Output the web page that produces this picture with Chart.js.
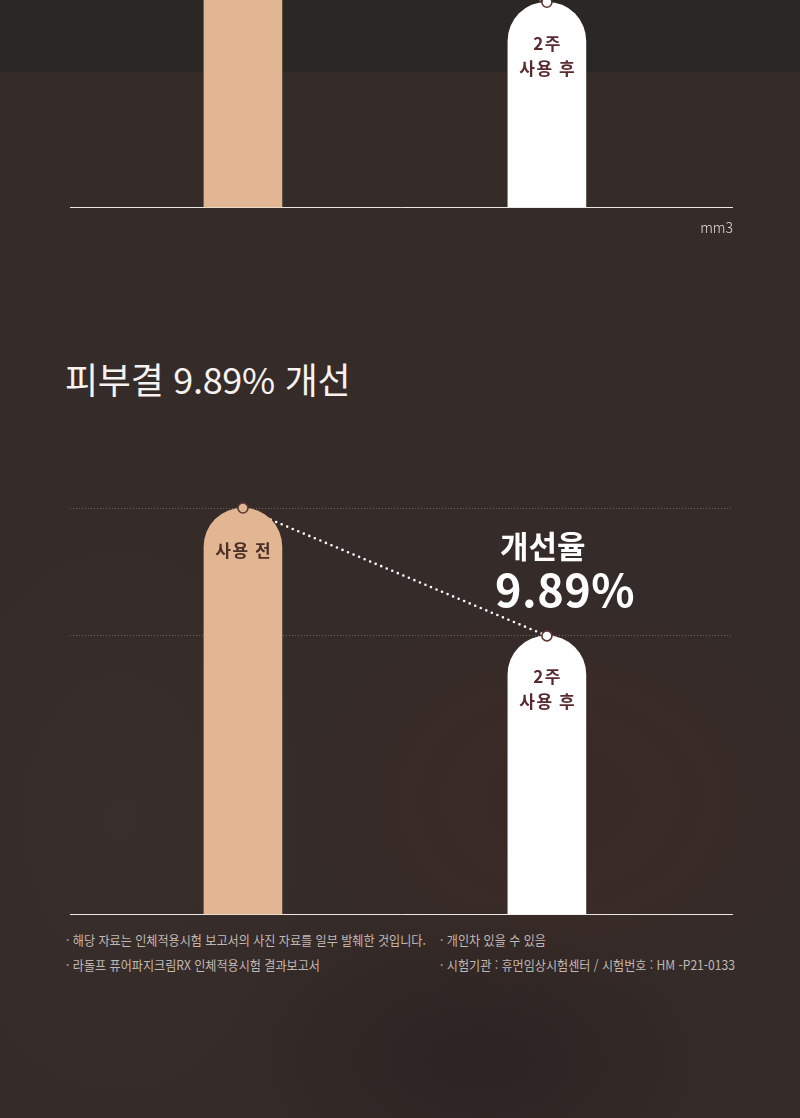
<!DOCTYPE html>
<html lang="ko">
<head>
<meta charset="utf-8">
<script src="https://cdn.jsdelivr.net/npm/chart.js@4/dist/chart.umd.min.js"></script>
<style>
  html, body { margin: 0; padding: 0; }
  body {
    width: 800px; height: 1118px; position: relative; overflow: hidden;
    background: #352b29;
    background-image:
      radial-gradient(ellipse 260px 200px at 560px 800px, rgba(70,40,30,0.35), rgba(0,0,0,0)),
      radial-gradient(ellipse 200px 300px at 120px 820px, rgba(60,52,50,0.35), rgba(0,0,0,0)),
      radial-gradient(ellipse 260px 160px at 480px 1060px, rgba(30,24,23,0.4), rgba(0,0,0,0));
    font-family: "Noto Sans CJK KR", "Noto Sans", sans-serif;
  }
  .band { position: absolute; left: 0; top: 0; width: 800px; height: 72px; background: #2b2725; }
  canvas { position: absolute; left: 0; }
  #c1 { top: -150px; }
  #c2 { top: 470px; }
  .unit { position: absolute; right: 67px; top: 217px; color: #e4dcd8; font-size: 14px; font-weight: 300; }
  .title { position: absolute; left: 65px; top: 352px; color: #f6f2f0; font-size: 36px; font-weight: 400; letter-spacing: -0.3px; white-space: nowrap; }
  .rate1 { position: absolute; left: 500px; top: 522px; color: #ffffff; font-size: 31px; font-weight: 700; white-space: nowrap; }
  .rate2 { position: absolute; left: 495px; top: 555px; color: #ffffff; font-size: 45px; font-weight: 700; white-space: nowrap; letter-spacing: 0.5px; }
  .note { position: absolute; color: #c2b8b3; font-size: 13px; white-space: nowrap; transform: scaleX(0.93); transform-origin: left top; }
</style>
</head>
<body>
<div class="band"></div>
<canvas id="c1" width="800" height="370"></canvas>
<div class="unit">mm3</div>
<div class="title">피부결 9.89% 개선</div>
<canvas id="c2" width="800" height="460"></canvas>
<div class="rate1">개선율</div>
<div class="rate2">9.89%</div>
<div class="note" style="left:66px; top:930px;">· 해당 자료는 인체적용시험 보고서의 사진 자료를 일부 발췌한 것입니다.</div>
<div class="note" style="left:440px; top:930px;">· 개인차 있을 수 있음</div>
<div class="note" style="left:66px; top:955px;">· 라돌프 퓨어파지크림RX 인체적용시험 결과보고서</div>
<div class="note" style="left:440px; top:955px;">· 시험기관 : 휴먼임상시험센터 / 시험번호 : HM -P21-0133</div>
<script>
// ---- data ----
const categories = [["사용 전"], ["2주", "사용 후"]];
const categoryX = [0, 1];
// upper (cropped) chart, unit mm3
const volumeValues = [0.52, 0.316];
// lower chart: skin texture (relative), 9.89% improvement
const textureValues = [100, 90.11];
const textureGridTicks = [90.11, 100];

const barColors = ["#e2b692", "#ffffff"];
const markerFill = ["#e2b692", "#ffffff"];
const labelColors = ["#4b3027", "#5a2b2f"];

const barLabelPlugin = {
  id: "barLabels",
  afterDatasetsDraw(chart) {
    const meta = chart.getDatasetMeta(1);
    const ctx = chart.ctx;
    ctx.save();
    ctx.textAlign = "center";
    ctx.textBaseline = "middle";
    ctx.font = "700 17px 'Noto Sans CJK KR', sans-serif";
    meta.data.forEach((el, i) => {
      const lines = categories[i];
      ctx.fillStyle = labelColors[i];
      if (lines.length === 1) {
        drawSpaced(ctx, lines[0], el.x, el.y + 43, 1.5);
      } else {
        lines.forEach((t, j) => drawSpaced(ctx, t, el.x, el.y + 41 + j * 25, 1.5));
      }
    });
    ctx.restore();
  }
};
function drawSpaced(ctx, text, cx, cy, sp) {
  if (ctx.letterSpacing !== undefined) {
    ctx.letterSpacing = sp + "px";
    ctx.fillText(text, cx + sp / 2, cy);
    ctx.letterSpacing = "0px";
  } else {
    ctx.fillText(text, cx, cy);
  }
}

function makeChart(id, values, yMin, yMax, pad, gridTicks) {
  const pts = values.map((v, i) => ({ x: categoryX[i], y: v }));
  return new Chart(document.getElementById(id), {
    data: {
      datasets: [
        {
          type: "line", data: pts, order: 3, clip: false,
          borderColor: "#ffffff", borderWidth: 2.6, borderDash: [0, 6], borderCapStyle: "round",
          pointRadius: 0, fill: false
        },
        {
          type: "bar", data: pts, order: 2, clip: false, base: yMin,
          backgroundColor: barColors, barThickness: 78,
          borderRadius: { topLeft: 39, topRight: 39, bottomLeft: 0, bottomRight: 0 },
          borderSkipped: "bottom"
        },
        {
          type: "line", data: pts, order: 1, clip: false, showLine: false,
          pointRadius: 5, pointBackgroundColor: markerFill, pointBorderColor: "#5c3830", pointBorderWidth: 1.6
        }
      ]
    },
    options: {
      responsive: false, animation: false, devicePixelRatio: 1,
      layout: { padding: pad },
      plugins: { legend: { display: false }, tooltip: { enabled: false } },
      scales: {
        x: {
          type: "linear", min: -0.569, max: 1.609, offset: false,
          grid: { display: false },
          border: { display: true, color: "#ece6e2", width: 1 },
          ticks: { display: false },
          afterFit: s => { s.height = 0; }
        },
        y: {
          min: yMin, max: yMax,
          border: { display: false },
          ticks: { display: false },
          afterFit: s => { s.width = 0; },
          afterBuildTicks: s => { s.ticks = gridTicks.map(v => ({ value: v })); },
          grid: {
            display: gridTicks.length > 0, drawTicks: false,
            color: "rgba(255,255,255,0.28)", lineWidth: 1
          }
        }
      }
    },
    plugins: [barLabelPlugin, {
      id: "dashGrid",
      beforeInit(chart) { chart.options.scales.y.border.dash = [1, 2]; }
    }]
  });
}

Chart.defaults.font.family = "'Noto Sans CJK KR', sans-serif";
makeChart("c1", volumeValues, 0, 0.52, { top: 20, bottom: 13, left: 70, right: 68 }, []);
makeChart("c2", textureValues, 68.6, 100, { top: 38, bottom: 16, left: 70, right: 68 }, textureGridTicks);
</script>
</body>
</html>
